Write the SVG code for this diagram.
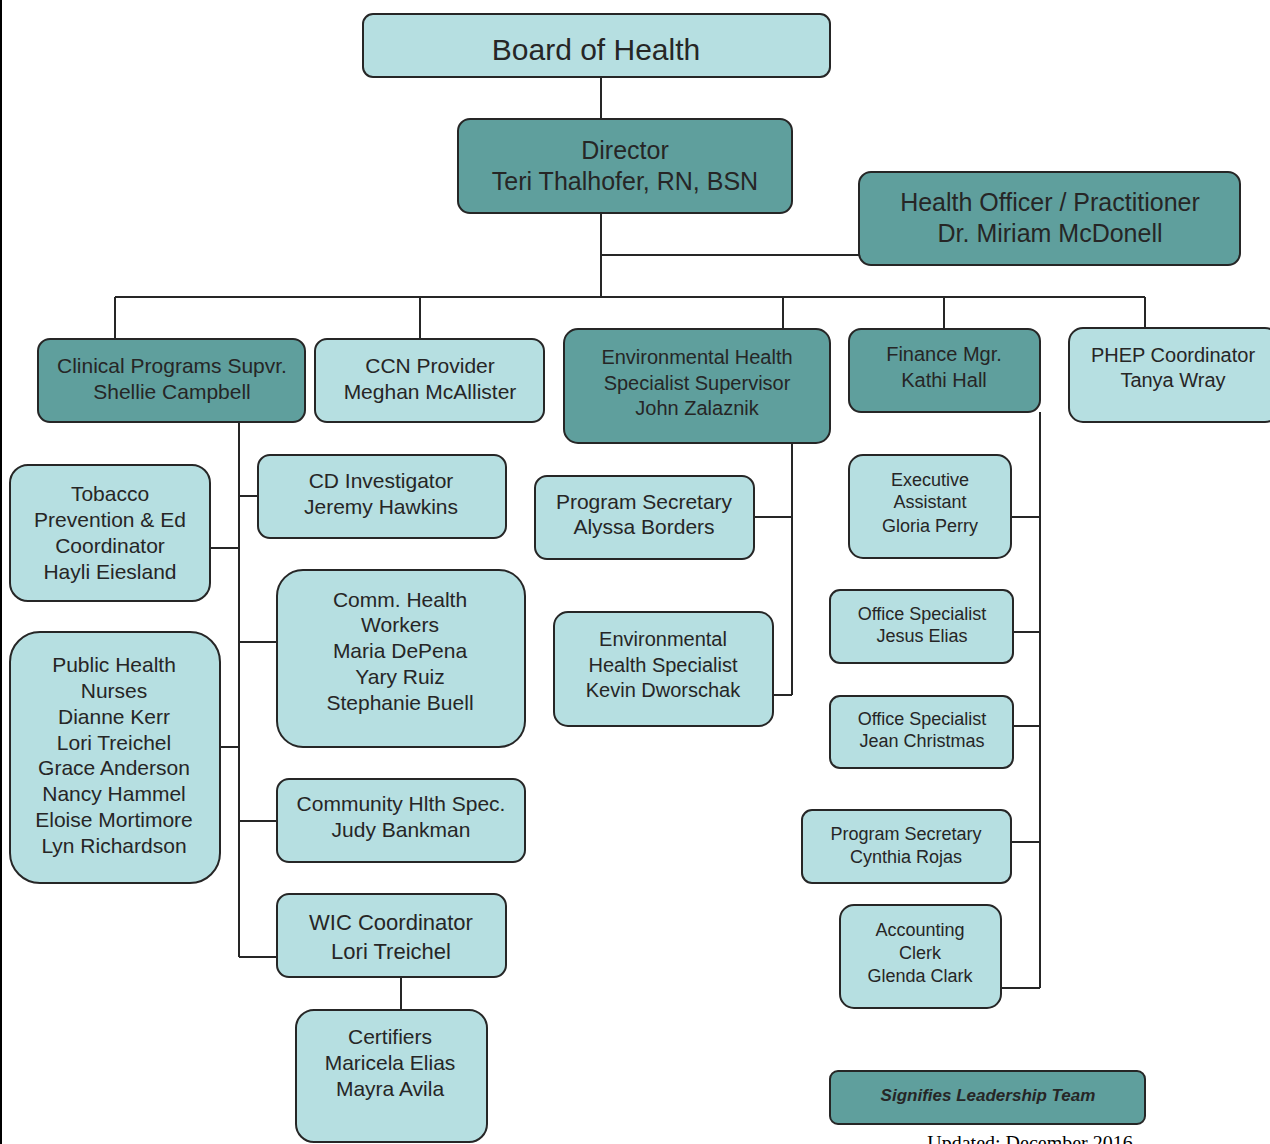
<svg xmlns="http://www.w3.org/2000/svg" width="1270" height="1144" viewBox="0 0 1270 1144">
<style>
.l{fill:#b6dfe1;stroke:#262626;stroke-width:2}
.d{fill:#5f9f9d;stroke:#262626;stroke-width:2}
text{font-family:"Liberation Sans",Arial,sans-serif;fill:#262626;text-anchor:middle}
.s30{font-size:30px}.s25{font-size:25px}.s21{font-size:21px}.s20{font-size:20px}.s18{font-size:18px}.s22{font-size:22px}
#connectors path{fill:none;stroke:#262626;stroke-width:2}
</style>
<rect width="1270" height="1144" fill="#fff"/>
<line x1="1" y1="0" x2="1" y2="1144" stroke="#000" stroke-width="2"/>
<g id="connectors">
<path d="M601 77V119M601 213V297M601 255H860M115 297H1145M115 297V339M420 297V339M783 297V329M944 297V340M1145 297V328"/>
<path d="M239 422V957M210 548H239M239 496H258M239 642H277M220 747H239M239 821H277M239 957H277M401 977V1010"/>
<path d="M792 443V695M754 517H792M773 695H792"/>
<path d="M1040 412V988M1011 517H1040M1013 632H1040M1013 726H1040M1011 842H1040M1001 988H1040"/>
</g>
<g id="board"><rect class="l" x="363" y="14" width="467" height="63" rx="10"/><text class="s30" x="596" y="60">Board of Health</text></g>
<g id="director"><rect class="d" x="458" y="119" width="334" height="94" rx="12"/><text class="s25" x="625" y="159">Director</text><text class="s25" x="625" y="190">Teri Thalhofer, RN, BSN</text></g>
<g id="healthofficer"><rect class="d" x="859" y="172" width="381" height="93" rx="12"/><text class="s25" x="1050" y="211">Health Officer / Practitioner</text><text class="s25" x="1050" y="242">Dr. Miriam McDonell</text></g>
<g id="clinical"><rect class="d" x="38" y="339" width="267" height="83" rx="12"/><text class="s21" x="172" y="373">Clinical Programs Supvr.</text><text class="s21" x="172" y="399">Shellie Campbell</text></g>
<g id="ccn"><rect class="l" x="315" y="339" width="229" height="83" rx="12"/><text class="s21" x="430" y="373">CCN Provider</text><text class="s21" x="430" y="399">Meghan McAllister</text></g>
<g id="envsup"><rect class="d" x="564" y="329" width="266" height="114" rx="14"/><text class="s20" x="697" y="364">Environmental Health</text><text class="s20" x="697" y="390">Specialist Supervisor</text><text class="s20" x="697" y="415">John Zalaznik</text></g>
<g id="finance"><rect class="d" x="849" y="329" width="191" height="83" rx="12"/><text class="s20" x="944" y="361">Finance Mgr.</text><text class="s20" x="944" y="387">Kathi Hall</text></g>
<g id="phep"><rect class="l" x="1069" y="328" width="210" height="94" rx="14"/><text class="s20" x="1173" y="362">PHEP Coordinator</text><text class="s20" x="1173" y="387">Tanya Wray</text></g>
<g id="tobacco"><rect class="l" x="10" y="465" width="200" height="136" rx="18"/><text class="s21" x="110" y="501">Tobacco</text><text class="s21" x="110" y="527">Prevention &amp; Ed</text><text class="s21" x="110" y="553">Coordinator</text><text class="s21" x="110" y="579">Hayli Eiesland</text></g>
<g id="cdinv"><rect class="l" x="258" y="455" width="248" height="83" rx="12"/><text class="s21" x="381" y="488">CD Investigator</text><text class="s21" x="381" y="514">Jeremy Hawkins</text></g>
<g id="chw"><rect class="l" x="277" y="570" width="248" height="177" rx="26"/><text class="s21" x="400" y="607">Comm. Health</text><text class="s21" x="400" y="632">Workers</text><text class="s21" x="400" y="658">Maria DePena</text><text class="s21" x="400" y="684">Yary Ruiz</text><text class="s21" x="400" y="710">Stephanie Buell</text></g>
<g id="phn"><rect class="l" x="10" y="632" width="210" height="251" rx="30"/><text class="s21" x="114" y="672">Public Health</text><text class="s21" x="114" y="698">Nurses</text><text class="s21" x="114" y="724">Dianne Kerr</text><text class="s21" x="114" y="750">Lori Treichel</text><text class="s21" x="114" y="775">Grace Anderson</text><text class="s21" x="114" y="801">Nancy Hammel</text><text class="s21" x="114" y="827">Eloise Mortimore</text><text class="s21" x="114" y="853">Lyn Richardson</text></g>
<g id="chs"><rect class="l" x="277" y="779" width="248" height="83" rx="12"/><text class="s21" x="401" y="811">Community Hlth Spec.</text><text class="s21" x="401" y="837">Judy Bankman</text></g>
<g id="wic"><rect class="l" x="277" y="894" width="229" height="83" rx="12"/><text class="s22" x="391" y="930">WIC Coordinator</text><text class="s22" x="391" y="959">Lori Treichel</text></g>
<g id="certifiers"><rect class="l" x="296" y="1010" width="191" height="132" rx="18"/><text class="s21" x="390" y="1044">Certifiers</text><text class="s21" x="390" y="1070">Maricela Elias</text><text class="s21" x="390" y="1096">Mayra Avila</text></g>
<g id="progsec1"><rect class="l" x="535" y="476" width="219" height="83" rx="12"/><text class="s21" x="644" y="509">Program Secretary</text><text class="s21" x="644" y="534">Alyssa Borders</text></g>
<g id="ehs"><rect class="l" x="554" y="612" width="219" height="114" rx="14"/><text class="s20" x="663" y="646">Environmental</text><text class="s20" x="663" y="672">Health Specialist</text><text class="s20" x="663" y="697">Kevin Dworschak</text></g>
<g id="exec"><rect class="l" x="849" y="455" width="162" height="103" rx="14"/><text class="s18" x="930" y="486">Executive</text><text class="s18" x="930" y="508">Assistant</text><text class="s18" x="930" y="532">Gloria Perry</text></g>
<g id="office1"><rect class="l" x="830" y="590" width="183" height="73" rx="10"/><text class="s18" x="922" y="620">Office Specialist</text><text class="s18" x="922" y="642">Jesus Elias</text></g>
<g id="office2"><rect class="l" x="830" y="696" width="183" height="72" rx="10"/><text class="s18" x="922" y="725">Office Specialist</text><text class="s18" x="922" y="747">Jean Christmas</text></g>
<g id="progsec2"><rect class="l" x="802" y="810" width="209" height="73" rx="10"/><text class="s18" x="906" y="840">Program Secretary</text><text class="s18" x="906" y="863">Cynthia Rojas</text></g>
<g id="acct"><rect class="l" x="840" y="905" width="161" height="103" rx="14"/><text class="s18" x="920" y="936">Accounting</text><text class="s18" x="920" y="959">Clerk</text><text class="s18" x="920" y="982">Glenda Clark</text></g>
<g id="legend"><rect class="d" x="830" y="1071" width="315" height="53" rx="8"/><text x="988" y="1101" style="font-size:17px;font-style:italic;font-weight:bold">Signifies Leadership Team</text></g>
<text x="1030" y="1150" style="font-family:'Liberation Serif','Times New Roman',serif;font-size:20px;fill:#000">Updated: December 2016</text>
</svg>
